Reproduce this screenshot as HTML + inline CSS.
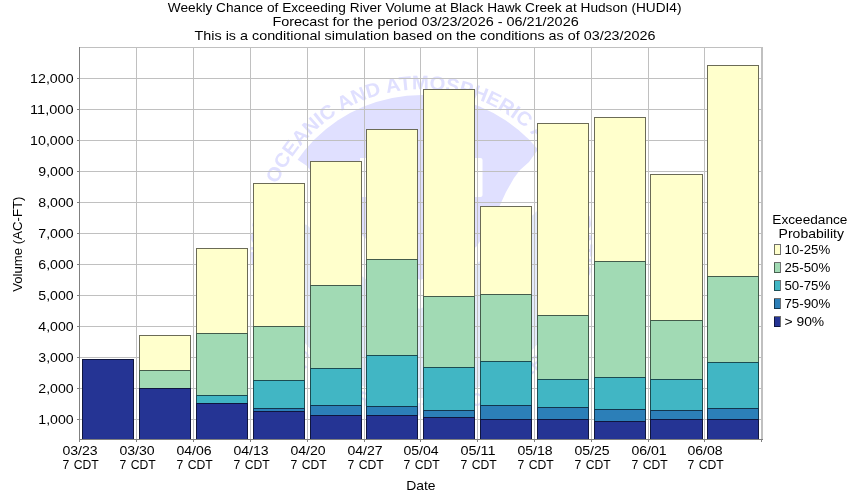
<!DOCTYPE html>
<html><head><meta charset="utf-8"><title>Weekly Chance of Exceeding River Volume</title>
<style>html,body{margin:0;padding:0;background:#fff;overflow:hidden}svg{display:block;will-change:transform}text{font-family:"Liberation Sans", sans-serif;}</style>
</head><body><svg width="850" height="500" viewBox="0 0 850 500" font-family='"Liberation Sans", sans-serif' shape-rendering="crispEdges"><rect x="0" y="0" width="850" height="500" fill="#fff"/><g id="wm" shape-rendering="auto"><defs><clipPath id="disc"><circle cx="421.7" cy="246.4" r="151.4"/></clipPath><path id="ringT" d="M 421.7,403.6 A 157.2,157.2 0 1,1 421.7,89.20000000000002 A 157.2,157.2 0 1,1 421.7,403.6"/><path id="ringB" d="M 252.7,246.4 A 169,169 0 0,0 590.7,246.4"/></defs><circle cx="421.7" cy="246.4" r="151.4" fill="#e0e0ff"/><g clip-path="url(#disc)"><polygon points="600,180 558,190 533,215 500,240 477,264 450,293 420,309 390,297 363,277 335,253 307,225 285,220 250,220 250,420 600,420" fill="#e4ebfb"/></g><polygon points="260,140 298,160 307,166 335,203 363,236 390,262 420,280 450,270 477,246 490,225 500,205 506,192 510,185 514,178 520,170 529,162 534,155 545,140 600,140 600,180 558,190 533,215 500,240 477,264 450,293 420,309 390,297 363,277 335,253 307,225 285,220 250,220" fill="#fff"/><rect x="360" y="158" width="6.5" height="39" fill="#fff"/><rect x="470" y="158" width="12.5" height="39" rx="2" fill="#fff"/><text font-family='"Liberation Sans", sans-serif' font-weight="bold" font-size="19.5" fill="#e0e0ff" text-anchor="middle"><textPath href="#ringT" xlink:href="#ringT" startOffset="50.069%" textLength="585" lengthAdjust="spacingAndGlyphs">NATIONAL OCEANIC AND ATMOSPHERIC ADMINISTRATION</textPath></text><text font-family='"Liberation Sans", sans-serif' font-weight="bold" font-size="18" fill="#e0e0ff" text-anchor="middle"><textPath href="#ringB" xlink:href="#ringB" startOffset="50%" textLength="330" lengthAdjust="spacing">U.S. DEPARTMENT OF COMMERCE</textPath></text></g><rect x="79" y="47" width="684" height="1" fill="#c0c0c0"/><rect x="79" y="78" width="684" height="1" fill="#c0c0c0"/><rect x="79" y="109" width="684" height="1" fill="#c0c0c0"/><rect x="79" y="140" width="684" height="1" fill="#c0c0c0"/><rect x="79" y="171" width="684" height="1" fill="#c0c0c0"/><rect x="79" y="202" width="684" height="1" fill="#c0c0c0"/><rect x="79" y="233" width="684" height="1" fill="#c0c0c0"/><rect x="79" y="264" width="684" height="1" fill="#c0c0c0"/><rect x="79" y="295" width="684" height="1" fill="#c0c0c0"/><rect x="79" y="326" width="684" height="1" fill="#c0c0c0"/><rect x="79" y="357" width="684" height="1" fill="#c0c0c0"/><rect x="79" y="388" width="684" height="1" fill="#c0c0c0"/><rect x="79" y="419" width="684" height="1" fill="#c0c0c0"/><rect x="136" y="47" width="1" height="392" fill="#c0c0c0"/><rect x="193" y="47" width="1" height="392" fill="#c0c0c0"/><rect x="250" y="47" width="1" height="392" fill="#c0c0c0"/><rect x="307" y="47" width="1" height="392" fill="#c0c0c0"/><rect x="364" y="47" width="1" height="392" fill="#c0c0c0"/><rect x="420" y="47" width="1" height="392" fill="#c0c0c0"/><rect x="477" y="47" width="1" height="392" fill="#c0c0c0"/><rect x="534" y="47" width="1" height="392" fill="#c0c0c0"/><rect x="591" y="47" width="1" height="392" fill="#c0c0c0"/><rect x="648" y="47" width="1" height="392" fill="#c0c0c0"/><rect x="704" y="47" width="1" height="392" fill="#c0c0c0"/><rect x="761" y="47" width="1" height="392" fill="#c0c0c0"/><rect x="762" y="47" width="1" height="392" fill="#c0c0c0"/><rect x="82" y="359" width="52" height="80" fill="#253494"/><rect x="82" y="359" width="1" height="80" fill="#000" fill-opacity="0.58"/><rect x="133" y="359" width="1" height="80" fill="#000" fill-opacity="0.58"/><rect x="83" y="359" width="50" height="1" fill="#000" fill-opacity="0.58"/><rect x="139" y="388" width="52" height="51" fill="#253494"/><rect x="139" y="370" width="52" height="18" fill="#a1dab4"/><rect x="139" y="335" width="52" height="35" fill="#ffffcc"/><rect x="139" y="335" width="1" height="104" fill="#000" fill-opacity="0.58"/><rect x="190" y="335" width="1" height="104" fill="#000" fill-opacity="0.58"/><rect x="140" y="335" width="50" height="1" fill="#000" fill-opacity="0.58"/><rect x="140" y="370" width="50" height="1" fill="#000" fill-opacity="0.58"/><rect x="140" y="388" width="50" height="1" fill="#000" fill-opacity="0.58"/><rect x="196" y="403" width="52" height="36" fill="#253494"/><rect x="196" y="395" width="52" height="8" fill="#41b6c4"/><rect x="196" y="333" width="52" height="62" fill="#a1dab4"/><rect x="196" y="248" width="52" height="85" fill="#ffffcc"/><rect x="196" y="248" width="1" height="191" fill="#000" fill-opacity="0.58"/><rect x="247" y="248" width="1" height="191" fill="#000" fill-opacity="0.58"/><rect x="197" y="248" width="50" height="1" fill="#000" fill-opacity="0.58"/><rect x="197" y="333" width="50" height="1" fill="#000" fill-opacity="0.58"/><rect x="197" y="395" width="50" height="1" fill="#000" fill-opacity="0.58"/><rect x="197" y="403" width="50" height="1" fill="#000" fill-opacity="0.58"/><rect x="253" y="411" width="52" height="28" fill="#253494"/><rect x="253" y="408" width="52" height="3" fill="#2c7fb8"/><rect x="253" y="380" width="52" height="28" fill="#41b6c4"/><rect x="253" y="326" width="52" height="54" fill="#a1dab4"/><rect x="253" y="183" width="52" height="143" fill="#ffffcc"/><rect x="253" y="183" width="1" height="256" fill="#000" fill-opacity="0.58"/><rect x="304" y="183" width="1" height="256" fill="#000" fill-opacity="0.58"/><rect x="254" y="183" width="50" height="1" fill="#000" fill-opacity="0.58"/><rect x="254" y="326" width="50" height="1" fill="#000" fill-opacity="0.58"/><rect x="254" y="380" width="50" height="1" fill="#000" fill-opacity="0.58"/><rect x="254" y="408" width="50" height="1" fill="#000" fill-opacity="0.58"/><rect x="254" y="411" width="50" height="1" fill="#000" fill-opacity="0.58"/><rect x="310" y="415" width="52" height="24" fill="#253494"/><rect x="310" y="405" width="52" height="10" fill="#2c7fb8"/><rect x="310" y="368" width="52" height="37" fill="#41b6c4"/><rect x="310" y="285" width="52" height="83" fill="#a1dab4"/><rect x="310" y="161" width="52" height="124" fill="#ffffcc"/><rect x="310" y="161" width="1" height="278" fill="#000" fill-opacity="0.58"/><rect x="361" y="161" width="1" height="278" fill="#000" fill-opacity="0.58"/><rect x="311" y="161" width="50" height="1" fill="#000" fill-opacity="0.58"/><rect x="311" y="285" width="50" height="1" fill="#000" fill-opacity="0.58"/><rect x="311" y="368" width="50" height="1" fill="#000" fill-opacity="0.58"/><rect x="311" y="405" width="50" height="1" fill="#000" fill-opacity="0.58"/><rect x="311" y="415" width="50" height="1" fill="#000" fill-opacity="0.58"/><rect x="366" y="415" width="52" height="24" fill="#253494"/><rect x="366" y="406" width="52" height="9" fill="#2c7fb8"/><rect x="366" y="355" width="52" height="51" fill="#41b6c4"/><rect x="366" y="259" width="52" height="96" fill="#a1dab4"/><rect x="366" y="129" width="52" height="130" fill="#ffffcc"/><rect x="366" y="129" width="1" height="310" fill="#000" fill-opacity="0.58"/><rect x="417" y="129" width="1" height="310" fill="#000" fill-opacity="0.58"/><rect x="367" y="129" width="50" height="1" fill="#000" fill-opacity="0.58"/><rect x="367" y="259" width="50" height="1" fill="#000" fill-opacity="0.58"/><rect x="367" y="355" width="50" height="1" fill="#000" fill-opacity="0.58"/><rect x="367" y="406" width="50" height="1" fill="#000" fill-opacity="0.58"/><rect x="367" y="415" width="50" height="1" fill="#000" fill-opacity="0.58"/><rect x="423" y="417" width="52" height="22" fill="#253494"/><rect x="423" y="410" width="52" height="7" fill="#2c7fb8"/><rect x="423" y="367" width="52" height="43" fill="#41b6c4"/><rect x="423" y="296" width="52" height="71" fill="#a1dab4"/><rect x="423" y="89" width="52" height="207" fill="#ffffcc"/><rect x="423" y="89" width="1" height="350" fill="#000" fill-opacity="0.58"/><rect x="474" y="89" width="1" height="350" fill="#000" fill-opacity="0.58"/><rect x="424" y="89" width="50" height="1" fill="#000" fill-opacity="0.58"/><rect x="424" y="296" width="50" height="1" fill="#000" fill-opacity="0.58"/><rect x="424" y="367" width="50" height="1" fill="#000" fill-opacity="0.58"/><rect x="424" y="410" width="50" height="1" fill="#000" fill-opacity="0.58"/><rect x="424" y="417" width="50" height="1" fill="#000" fill-opacity="0.58"/><rect x="480" y="419" width="52" height="20" fill="#253494"/><rect x="480" y="405" width="52" height="14" fill="#2c7fb8"/><rect x="480" y="361" width="52" height="44" fill="#41b6c4"/><rect x="480" y="294" width="52" height="67" fill="#a1dab4"/><rect x="480" y="206" width="52" height="88" fill="#ffffcc"/><rect x="480" y="206" width="1" height="233" fill="#000" fill-opacity="0.58"/><rect x="531" y="206" width="1" height="233" fill="#000" fill-opacity="0.58"/><rect x="481" y="206" width="50" height="1" fill="#000" fill-opacity="0.58"/><rect x="481" y="294" width="50" height="1" fill="#000" fill-opacity="0.58"/><rect x="481" y="361" width="50" height="1" fill="#000" fill-opacity="0.58"/><rect x="481" y="405" width="50" height="1" fill="#000" fill-opacity="0.58"/><rect x="481" y="419" width="50" height="1" fill="#000" fill-opacity="0.58"/><rect x="537" y="419" width="52" height="20" fill="#253494"/><rect x="537" y="407" width="52" height="12" fill="#2c7fb8"/><rect x="537" y="379" width="52" height="28" fill="#41b6c4"/><rect x="537" y="315" width="52" height="64" fill="#a1dab4"/><rect x="537" y="123" width="52" height="192" fill="#ffffcc"/><rect x="537" y="123" width="1" height="316" fill="#000" fill-opacity="0.58"/><rect x="588" y="123" width="1" height="316" fill="#000" fill-opacity="0.58"/><rect x="538" y="123" width="50" height="1" fill="#000" fill-opacity="0.58"/><rect x="538" y="315" width="50" height="1" fill="#000" fill-opacity="0.58"/><rect x="538" y="379" width="50" height="1" fill="#000" fill-opacity="0.58"/><rect x="538" y="407" width="50" height="1" fill="#000" fill-opacity="0.58"/><rect x="538" y="419" width="50" height="1" fill="#000" fill-opacity="0.58"/><rect x="594" y="421" width="52" height="18" fill="#253494"/><rect x="594" y="409" width="52" height="12" fill="#2c7fb8"/><rect x="594" y="377" width="52" height="32" fill="#41b6c4"/><rect x="594" y="261" width="52" height="116" fill="#a1dab4"/><rect x="594" y="117" width="52" height="144" fill="#ffffcc"/><rect x="594" y="117" width="1" height="322" fill="#000" fill-opacity="0.58"/><rect x="645" y="117" width="1" height="322" fill="#000" fill-opacity="0.58"/><rect x="595" y="117" width="50" height="1" fill="#000" fill-opacity="0.58"/><rect x="595" y="261" width="50" height="1" fill="#000" fill-opacity="0.58"/><rect x="595" y="377" width="50" height="1" fill="#000" fill-opacity="0.58"/><rect x="595" y="409" width="50" height="1" fill="#000" fill-opacity="0.58"/><rect x="595" y="421" width="50" height="1" fill="#000" fill-opacity="0.58"/><rect x="650" y="419" width="53" height="20" fill="#253494"/><rect x="650" y="410" width="53" height="9" fill="#2c7fb8"/><rect x="650" y="379" width="53" height="31" fill="#41b6c4"/><rect x="650" y="320" width="53" height="59" fill="#a1dab4"/><rect x="650" y="174" width="53" height="146" fill="#ffffcc"/><rect x="650" y="174" width="1" height="265" fill="#000" fill-opacity="0.58"/><rect x="702" y="174" width="1" height="265" fill="#000" fill-opacity="0.58"/><rect x="651" y="174" width="51" height="1" fill="#000" fill-opacity="0.58"/><rect x="651" y="320" width="51" height="1" fill="#000" fill-opacity="0.58"/><rect x="651" y="379" width="51" height="1" fill="#000" fill-opacity="0.58"/><rect x="651" y="410" width="51" height="1" fill="#000" fill-opacity="0.58"/><rect x="651" y="419" width="51" height="1" fill="#000" fill-opacity="0.58"/><rect x="707" y="419" width="52" height="20" fill="#253494"/><rect x="707" y="408" width="52" height="11" fill="#2c7fb8"/><rect x="707" y="362" width="52" height="46" fill="#41b6c4"/><rect x="707" y="276" width="52" height="86" fill="#a1dab4"/><rect x="707" y="65" width="52" height="211" fill="#ffffcc"/><rect x="707" y="65" width="1" height="374" fill="#000" fill-opacity="0.58"/><rect x="758" y="65" width="1" height="374" fill="#000" fill-opacity="0.58"/><rect x="708" y="65" width="50" height="1" fill="#000" fill-opacity="0.58"/><rect x="708" y="276" width="50" height="1" fill="#000" fill-opacity="0.58"/><rect x="708" y="362" width="50" height="1" fill="#000" fill-opacity="0.58"/><rect x="708" y="408" width="50" height="1" fill="#000" fill-opacity="0.58"/><rect x="708" y="419" width="50" height="1" fill="#000" fill-opacity="0.58"/><rect x="79" y="47" width="1" height="393" fill="#808080"/><rect x="79" y="439" width="684" height="1" fill="#808080"/><rect x="77" y="78" width="2" height="1" fill="#808080"/><rect x="77" y="109" width="2" height="1" fill="#808080"/><rect x="77" y="140" width="2" height="1" fill="#808080"/><rect x="77" y="171" width="2" height="1" fill="#808080"/><rect x="77" y="202" width="2" height="1" fill="#808080"/><rect x="77" y="233" width="2" height="1" fill="#808080"/><rect x="77" y="264" width="2" height="1" fill="#808080"/><rect x="77" y="295" width="2" height="1" fill="#808080"/><rect x="77" y="326" width="2" height="1" fill="#808080"/><rect x="77" y="357" width="2" height="1" fill="#808080"/><rect x="77" y="388" width="2" height="1" fill="#808080"/><rect x="77" y="419" width="2" height="1" fill="#808080"/><rect x="79" y="440" width="1" height="2" fill="#808080"/><rect x="136" y="440" width="1" height="2" fill="#808080"/><rect x="193" y="440" width="1" height="2" fill="#808080"/><rect x="250" y="440" width="1" height="2" fill="#808080"/><rect x="307" y="440" width="1" height="2" fill="#808080"/><rect x="364" y="440" width="1" height="2" fill="#808080"/><rect x="420" y="440" width="1" height="2" fill="#808080"/><rect x="477" y="440" width="1" height="2" fill="#808080"/><rect x="534" y="440" width="1" height="2" fill="#808080"/><rect x="591" y="440" width="1" height="2" fill="#808080"/><rect x="648" y="440" width="1" height="2" fill="#808080"/><rect x="704" y="440" width="1" height="2" fill="#808080"/><rect x="761" y="440" width="1" height="2" fill="#808080"/><g fill="#000"><text x="167.8" y="12" font-size="12.6" text-anchor="start" textLength="513.7" lengthAdjust="spacingAndGlyphs">Weekly Chance of Exceeding River Volume at Black Hawk Creek at Hudson (HUDI4)</text><text x="272.4" y="26" font-size="12.6" text-anchor="start" textLength="306.3" lengthAdjust="spacingAndGlyphs">Forecast for the period 03/23/2026 - 06/21/2026</text><text x="194.6" y="40" font-size="12.6" text-anchor="start" textLength="460.9" lengthAdjust="spacingAndGlyphs">This is a conditional simulation based on the conditions as of 03/23/2026</text><text x="30.099999999999994" y="83" font-size="12.6" text-anchor="start" textLength="43.5" lengthAdjust="spacingAndGlyphs">12,000</text><text x="30.099999999999994" y="114" font-size="12.6" text-anchor="start" textLength="43.5" lengthAdjust="spacingAndGlyphs">11,000</text><text x="30.099999999999994" y="145" font-size="12.6" text-anchor="start" textLength="43.5" lengthAdjust="spacingAndGlyphs">10,000</text><text x="38.3" y="176" font-size="12.6" text-anchor="start" textLength="35.3" lengthAdjust="spacingAndGlyphs">9,000</text><text x="38.3" y="207" font-size="12.6" text-anchor="start" textLength="35.3" lengthAdjust="spacingAndGlyphs">8,000</text><text x="38.3" y="238" font-size="12.6" text-anchor="start" textLength="35.3" lengthAdjust="spacingAndGlyphs">7,000</text><text x="38.3" y="269" font-size="12.6" text-anchor="start" textLength="35.3" lengthAdjust="spacingAndGlyphs">6,000</text><text x="38.3" y="300" font-size="12.6" text-anchor="start" textLength="35.3" lengthAdjust="spacingAndGlyphs">5,000</text><text x="38.3" y="331" font-size="12.6" text-anchor="start" textLength="35.3" lengthAdjust="spacingAndGlyphs">4,000</text><text x="38.3" y="362" font-size="12.6" text-anchor="start" textLength="35.3" lengthAdjust="spacingAndGlyphs">3,000</text><text x="38.3" y="393" font-size="12.6" text-anchor="start" textLength="35.3" lengthAdjust="spacingAndGlyphs">2,000</text><text x="38.3" y="424" font-size="12.6" text-anchor="start" textLength="35.3" lengthAdjust="spacingAndGlyphs">1,000</text><text x="62.4" y="455" font-size="12.6" text-anchor="start" textLength="35.2" lengthAdjust="spacingAndGlyphs">03/23</text><text x="62.6" y="469" font-size="12.6" text-anchor="start" textLength="36.2" lengthAdjust="spacingAndGlyphs" word-spacing="1">7 CDT</text><text x="119.4" y="455" font-size="12.6" text-anchor="start" textLength="35.2" lengthAdjust="spacingAndGlyphs">03/30</text><text x="119.6" y="469" font-size="12.6" text-anchor="start" textLength="36.2" lengthAdjust="spacingAndGlyphs" word-spacing="1">7 CDT</text><text x="176.4" y="455" font-size="12.6" text-anchor="start" textLength="35.2" lengthAdjust="spacingAndGlyphs">04/06</text><text x="176.6" y="469" font-size="12.6" text-anchor="start" textLength="36.2" lengthAdjust="spacingAndGlyphs" word-spacing="1">7 CDT</text><text x="233.4" y="455" font-size="12.6" text-anchor="start" textLength="35.2" lengthAdjust="spacingAndGlyphs">04/13</text><text x="233.6" y="469" font-size="12.6" text-anchor="start" textLength="36.2" lengthAdjust="spacingAndGlyphs" word-spacing="1">7 CDT</text><text x="290.4" y="455" font-size="12.6" text-anchor="start" textLength="35.2" lengthAdjust="spacingAndGlyphs">04/20</text><text x="290.6" y="469" font-size="12.6" text-anchor="start" textLength="36.2" lengthAdjust="spacingAndGlyphs" word-spacing="1">7 CDT</text><text x="347.4" y="455" font-size="12.6" text-anchor="start" textLength="35.2" lengthAdjust="spacingAndGlyphs">04/27</text><text x="347.6" y="469" font-size="12.6" text-anchor="start" textLength="36.2" lengthAdjust="spacingAndGlyphs" word-spacing="1">7 CDT</text><text x="403.4" y="455" font-size="12.6" text-anchor="start" textLength="35.2" lengthAdjust="spacingAndGlyphs">05/04</text><text x="403.6" y="469" font-size="12.6" text-anchor="start" textLength="36.2" lengthAdjust="spacingAndGlyphs" word-spacing="1">7 CDT</text><text x="460.4" y="455" font-size="12.6" text-anchor="start" textLength="35.2" lengthAdjust="spacingAndGlyphs">05/11</text><text x="460.6" y="469" font-size="12.6" text-anchor="start" textLength="36.2" lengthAdjust="spacingAndGlyphs" word-spacing="1">7 CDT</text><text x="517.4" y="455" font-size="12.6" text-anchor="start" textLength="35.2" lengthAdjust="spacingAndGlyphs">05/18</text><text x="517.6" y="469" font-size="12.6" text-anchor="start" textLength="36.2" lengthAdjust="spacingAndGlyphs" word-spacing="1">7 CDT</text><text x="574.4" y="455" font-size="12.6" text-anchor="start" textLength="35.2" lengthAdjust="spacingAndGlyphs">05/25</text><text x="574.6" y="469" font-size="12.6" text-anchor="start" textLength="36.2" lengthAdjust="spacingAndGlyphs" word-spacing="1">7 CDT</text><text x="631.4" y="455" font-size="12.6" text-anchor="start" textLength="35.2" lengthAdjust="spacingAndGlyphs">06/01</text><text x="631.6" y="469" font-size="12.6" text-anchor="start" textLength="36.2" lengthAdjust="spacingAndGlyphs" word-spacing="1">7 CDT</text><text x="687.4" y="455" font-size="12.6" text-anchor="start" textLength="35.2" lengthAdjust="spacingAndGlyphs">06/08</text><text x="687.6" y="469" font-size="12.6" text-anchor="start" textLength="36.2" lengthAdjust="spacingAndGlyphs" word-spacing="1">7 CDT</text><text x="406.2" y="490" font-size="12.6" text-anchor="start" textLength="29.4" lengthAdjust="spacingAndGlyphs">Date</text><text transform="translate(22,291.8) rotate(-90)" x="0" y="0" font-size="12.6" textLength="95.2" lengthAdjust="spacingAndGlyphs">Volume (AC-FT)</text><text x="772.3" y="224" font-size="12.6" text-anchor="start" textLength="75.1" lengthAdjust="spacingAndGlyphs">Exceedance</text><text x="778.6" y="238" font-size="12.6" text-anchor="start" textLength="65.4" lengthAdjust="spacingAndGlyphs">Probability</text><rect x="774" y="245" width="6" height="10" fill="#ffffcc"/><rect x="774.5" y="244.5" width="6" height="10" fill="none" stroke="#000" stroke-opacity="0.56"/><text x="784.5" y="253.8" font-size="12.6" text-anchor="start" textLength="45.7" lengthAdjust="spacingAndGlyphs">10-25%</text><rect x="774" y="263" width="6" height="10" fill="#a1dab4"/><rect x="774.5" y="262.5" width="6" height="10" fill="none" stroke="#000" stroke-opacity="0.56"/><text x="784.5" y="271.8" font-size="12.6" text-anchor="start" textLength="45.7" lengthAdjust="spacingAndGlyphs">25-50%</text><rect x="774" y="281" width="6" height="10" fill="#41b6c4"/><rect x="774.5" y="280.5" width="6" height="10" fill="none" stroke="#000" stroke-opacity="0.56"/><text x="784.5" y="289.8" font-size="12.6" text-anchor="start" textLength="45.7" lengthAdjust="spacingAndGlyphs">50-75%</text><rect x="774" y="299" width="6" height="10" fill="#2c7fb8"/><rect x="774.5" y="298.5" width="6" height="10" fill="none" stroke="#000" stroke-opacity="0.56"/><text x="784.5" y="307.8" font-size="12.6" text-anchor="start" textLength="45.7" lengthAdjust="spacingAndGlyphs">75-90%</text><rect x="774" y="317" width="6" height="10" fill="#253494"/><rect x="774.5" y="316.5" width="6" height="10" fill="none" stroke="#000" stroke-opacity="0.56"/><text x="784.5" y="325.8" font-size="12.6" text-anchor="start" textLength="39.7" lengthAdjust="spacingAndGlyphs">&gt; 90%</text></g></svg></body></html>
